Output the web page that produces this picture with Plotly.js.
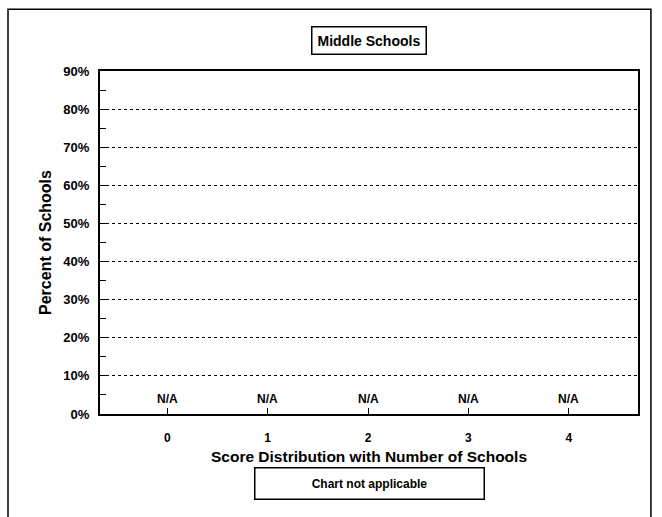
<!DOCTYPE html>
<html>
<head>
<meta charset="utf-8">
<script src="https://cdn.plot.ly/plotly-3.0.1.min.js"></script>
<style>html,body{margin:0;padding:0;background:#fff;}#chart{width:662px;height:517px;}</style>
</head>
<body>
<div id="chart"></div>
<script>
const categories = ['0', '1', '2', '3', '4'];
const values = [null, null, null, null, null];
const valueLabels = ['N/A', 'N/A', 'N/A', 'N/A', 'N/A'];
const chartTitle = 'Middle Schools';
const xTitle = 'Score Distribution with Number of Schools';
const yTitle = 'Percent of Schools';
const noteText = 'Chart not applicable';

const FONT = 'Liberation Sans, Arial, sans-serif';

const traces = [{
  type: 'scatter',
  mode: 'markers',
  x: categories.map(Number),
  y: values.map(v => (v === null ? 0 : v)),
  marker: {opacity: 0},
  hoverinfo: 'skip',
  showlegend: false
}];

const labelAnnotations = categories.map((c, i) => ({
  xref: 'x', yref: 'y', x: Number(c), y: values[i] === null ? 0 : values[i],
  yanchor: 'bottom', xanchor: 'center', yshift: 6,
  text: valueLabels[i], showarrow: false,
  font: {family: FONT, size: 12, weight: 'bold', color: '#000'}
}));

const layout = {
  width: 662, height: 517,
  margin: {l: 100, r: 24, t: 71, b: 103},
  paper_bgcolor: '#fff', plot_bgcolor: '#fff',
  font: {family: FONT, color: '#000'},
  showlegend: false,
  xaxis: {
    range: [-0.67, 4.69],
    tickvals: categories.map(Number),
    ticktext: categories,
    ticks: 'inside', ticklen: 6, tickwidth: 1, tickcolor: '#000',
    ticklabelstandoff: 12,
    showgrid: false, zeroline: false,
    showline: true, linecolor: '#000', linewidth: 2, mirror: true,
    tickfont: {family: FONT, size: 12, weight: 'bold'},
    title: {text: xTitle, font: {family: FONT, size: 15.5, weight: 'bold'}, standoff: 7}
  },
  yaxis: {
    range: [0, 90],
    dtick: 10, tick0: 0,
    ticksuffix: '%',
    ticks: 'inside', ticklen: 6, tickwidth: 1, tickcolor: '#000',
    ticklabelstandoff: 6,
    minor: {dtick: 5, ticks: 'inside', ticklen: 6, tickwidth: 1, tickcolor: '#000', showgrid: false},
    showgrid: true, gridcolor: '#000', gridwidth: 1, griddash: 'dot',
    zeroline: false,
    showline: true, linecolor: '#000', linewidth: 2, mirror: true,
    tickfont: {family: FONT, size: 13, weight: 'bold'},
    title: {text: yTitle, font: {family: FONT, size: 16, weight: 'bold'}, standoff: 8}
  },
  annotations: [
    {
      xref: 'paper', yref: 'paper', x: 0.5, y: 1.0, yshift: 31,
      xanchor: 'center', yanchor: 'middle',
      text: chartTitle, showarrow: false,
      font: {family: FONT, size: 14, weight: 'bold', color: '#000'},
      bordercolor: '#000', borderwidth: 1.5, borderpad: 5, bgcolor: '#fff'
    },
    {
      xref: 'paper', yref: 'paper', x: 0.5, y: 0, yshift: -53,
      xanchor: 'center', yanchor: 'top',
      text: noteText, showarrow: false, width: 224, height: 26,
      font: {family: FONT, size: 12, weight: 'bold', color: '#000'},
      bordercolor: '#000', borderwidth: 1.5, borderpad: 2, bgcolor: '#fff'
    }
  ].concat(labelAnnotations),
  shapes: [
    {type: 'rect', xref: 'paper', yref: 'paper',
     x0: -0.171, x1: 1.024, y0: -0.31, y1: 1.18,
     line: {color: '#000', width: 1.5}, fillcolor: 'rgba(0,0,0,0)', layer: 'below'}
  ]
};

Plotly.newPlot('chart', traces, layout, {staticPlot: true, displayModeBar: false});
</script>
</body>
</html>
